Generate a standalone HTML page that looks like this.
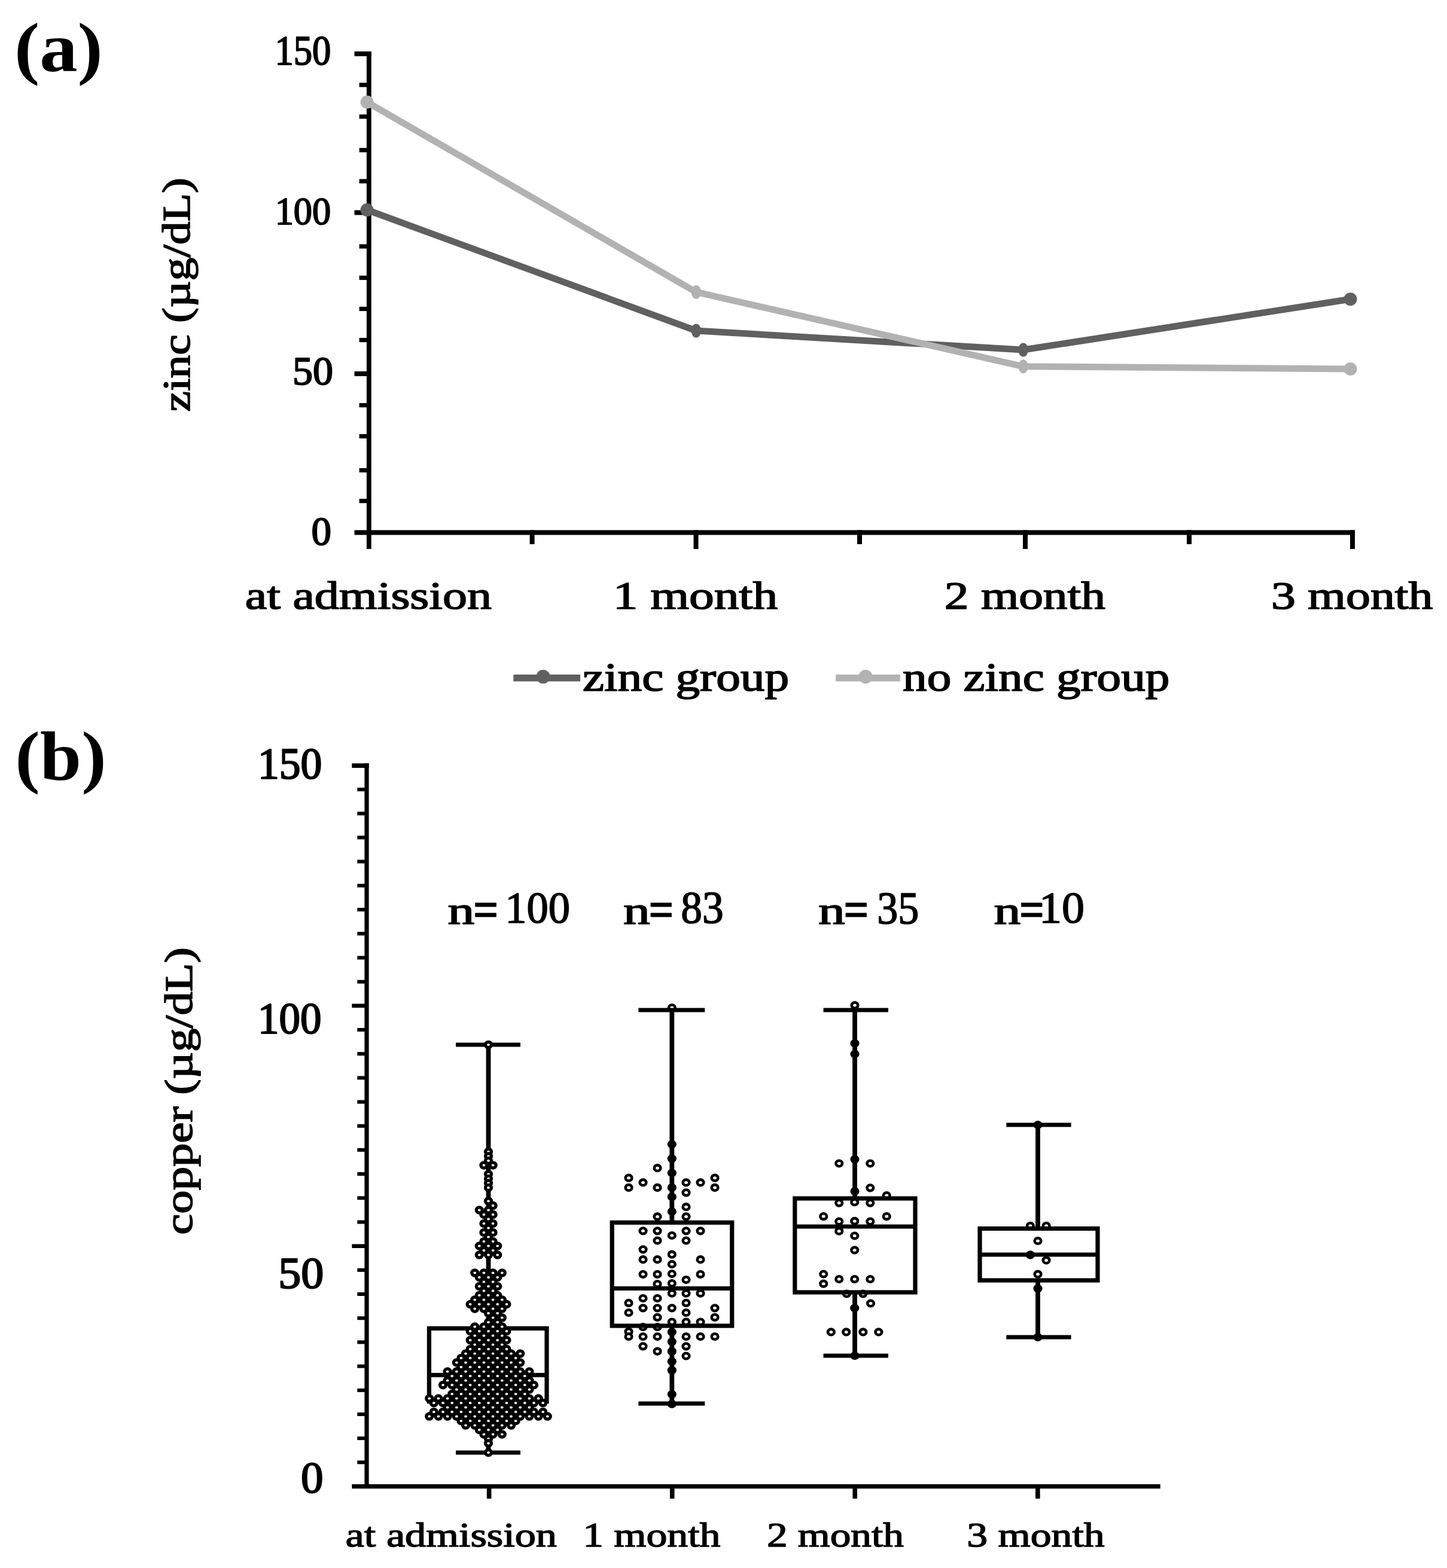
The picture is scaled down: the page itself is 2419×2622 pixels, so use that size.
<!DOCTYPE html>
<html><head><meta charset="utf-8"><title>Zinc and copper levels</title>
<style>html,body{margin:0;padding:0;background:#fff}svg{display:block}</style></head>
<body><svg width="2419" height="2622" viewBox="0 0 2419 2622">
<rect width="2419" height="2622" fill="#fff"/>
<g font-family="Liberation Serif, 'Times New Roman', serif" fill="#000"><text transform="translate(23.93 118.50) scale(1.2685 1.1667)" font-size="100" font-weight="bold">(a)</text><text transform="translate(25.31 1304.23) scale(1.2465 1.1700)" font-size="100" font-weight="bold">(b)</text><text transform="translate(459.42 108.24) scale(0.6255 0.6871)" font-size="100" stroke="#000" stroke-width="3" stroke-linejoin="round">150</text><text transform="translate(459.63 374.75) scale(0.6241 0.6486)" font-size="100" stroke="#000" stroke-width="3" stroke-linejoin="round">100</text><text transform="translate(488.99 643.14) scale(0.6787 0.6857)" font-size="100" stroke="#000" stroke-width="3" stroke-linejoin="round">50</text><text transform="translate(520.46 910.99) scale(0.6696 0.6714)" font-size="100" stroke="#000" stroke-width="3" stroke-linejoin="round">0</text><text transform="translate(409.76 1017.77) scale(0.8202 0.6632)" font-size="100" stroke="#000" stroke-width="2.5" stroke-linejoin="round">at admission</text><text transform="translate(1024.73 1017.77) scale(0.8335 0.6632)" font-size="100" stroke="#000" stroke-width="2.5" stroke-linejoin="round">1 month</text><text transform="translate(1578.86 1017.77) scale(0.8138 0.6632)" font-size="100" stroke="#000" stroke-width="2.5" stroke-linejoin="round">2 month</text><text transform="translate(2125.03 1017.77) scale(0.8181 0.6632)" font-size="100" stroke="#000" stroke-width="2.5" stroke-linejoin="round">3 month</text><text transform="translate(973.89 1155.15) scale(0.8124 0.6818)" font-size="100" stroke="#000" stroke-width="2.5" stroke-linejoin="round">zinc group</text><text transform="translate(1509.09 1155.15) scale(0.8117 0.6818)" font-size="100" stroke="#000" stroke-width="2.5" stroke-linejoin="round">no zinc group</text><text transform="translate(317.29 688.48) rotate(-90) scale(0.7754 0.6488)" font-size="100" stroke="#000" stroke-width="2.5" stroke-linejoin="round">zinc (µg/dL)</text><text transform="translate(430.99 1302.18) scale(0.7163 0.7386)" font-size="100" stroke="#000" stroke-width="3" stroke-linejoin="round">150</text><text transform="translate(431.04 1728.17) scale(0.7092 0.7443)" font-size="100" stroke="#000" stroke-width="3" stroke-linejoin="round">100</text><text transform="translate(465.16 2154.38) scale(0.7596 0.7386)" font-size="100" stroke="#000" stroke-width="3" stroke-linejoin="round">50</text><text transform="translate(503.00 2495.78) scale(0.7500 0.7400)" font-size="100" stroke="#000" stroke-width="3" stroke-linejoin="round">0</text><text transform="translate(577.59 2585.79) scale(0.7030 0.5640)" font-size="100" stroke="#000" stroke-width="2.5" stroke-linejoin="round">at admission</text><text transform="translate(974.13 2585.79) scale(0.6966 0.5640)" font-size="100" stroke="#000" stroke-width="2.5" stroke-linejoin="round">1 month</text><text transform="translate(1281.92 2585.79) scale(0.6927 0.5640)" font-size="100" stroke="#000" stroke-width="2.5" stroke-linejoin="round">2 month</text><text transform="translate(1616.21 2585.79) scale(0.6975 0.5640)" font-size="100" stroke="#000" stroke-width="2.5" stroke-linejoin="round">3 month</text><text transform="translate(321.19 2064.66) rotate(-90) scale(0.7877 0.6508)" font-size="100" stroke="#000" stroke-width="2.5" stroke-linejoin="round">copper (µg/dL)</text><text transform="translate(748.61 1544.69) scale(0.8939 0.6508)" font-size="100" stroke="#000" stroke-width="2.5" stroke-linejoin="round">n</text><text transform="translate(791.02 1550.19) scale(0.7458 0.8593)" font-size="100" font-weight="bold" stroke="#000" stroke-width="1" stroke-linejoin="round">=</text><text transform="translate(844.20 1543.27) scale(0.7252 0.7429)" font-size="100" stroke="#000" stroke-width="2.2" stroke-linejoin="round">100</text><text transform="translate(1042.11 1544.69) scale(0.8939 0.6508)" font-size="100" stroke="#000" stroke-width="2.5" stroke-linejoin="round">n</text><text transform="translate(1084.33 1550.19) scale(0.7438 0.8593)" font-size="100" font-weight="bold" stroke="#000" stroke-width="1" stroke-linejoin="round">=</text><text transform="translate(1138.26 1543.24) scale(0.7138 0.7536)" font-size="100" stroke="#000" stroke-width="2.2" stroke-linejoin="round">83</text><text transform="translate(1368.11 1544.69) scale(0.8939 0.6508)" font-size="100" stroke="#000" stroke-width="2.5" stroke-linejoin="round">n</text><text transform="translate(1410.33 1550.19) scale(0.7438 0.8593)" font-size="100" font-weight="bold" stroke="#000" stroke-width="1" stroke-linejoin="round">=</text><text transform="translate(1466.20 1543.97) scale(0.6989 0.7647)" font-size="100" stroke="#000" stroke-width="2.2" stroke-linejoin="round">35</text><text transform="translate(1661.50 1544.69) scale(0.8959 0.6508)" font-size="100" stroke="#000" stroke-width="2.5" stroke-linejoin="round">n</text><text transform="translate(1703.83 1550.19) scale(0.7438 0.8593)" font-size="100" font-weight="bold" stroke="#000" stroke-width="1" stroke-linejoin="round">=</text><text transform="translate(1736.91 1543.27) scale(0.7607 0.7429)" font-size="100" stroke="#000" stroke-width="2.2" stroke-linejoin="round">10</text></g>
<g><rect x="612.9" y="86.0" width="7.8" height="832.0" fill="#000"/><rect x="592.5" y="86.0" width="28.1" height="8.0" fill="#000"/><rect x="592.5" y="351.5" width="24.2" height="8.0" fill="#000"/><rect x="592.5" y="621.0" width="24.2" height="8.0" fill="#000"/><rect x="600.6" y="138.4" width="16.1" height="7.2" fill="#000"/><rect x="600.6" y="191.4" width="16.1" height="7.2" fill="#000"/><rect x="600.6" y="247.4" width="16.1" height="7.2" fill="#000"/><rect x="600.6" y="299.4" width="16.1" height="7.2" fill="#000"/><rect x="600.6" y="408.4" width="16.1" height="7.2" fill="#000"/><rect x="600.6" y="460.9" width="16.1" height="7.2" fill="#000"/><rect x="600.6" y="512.9" width="16.1" height="7.2" fill="#000"/><rect x="600.6" y="565.0" width="16.1" height="7.2" fill="#000"/><rect x="600.6" y="674.0" width="16.1" height="7.2" fill="#000"/><rect x="600.6" y="725.9" width="16.1" height="7.2" fill="#000"/><rect x="600.6" y="782.8" width="16.1" height="7.2" fill="#000"/><rect x="600.6" y="834.1" width="16.1" height="7.2" fill="#000"/><rect x="592.5" y="886.5" width="1672.5" height="8.0" fill="#000"/><rect x="1159.5" y="886.5" width="8.0" height="31.5" fill="#000"/><rect x="1710.0" y="886.5" width="8.0" height="31.5" fill="#000"/><rect x="2257.0" y="886.5" width="8.0" height="31.5" fill="#000"/><rect x="885.6" y="886.5" width="8.0" height="23.5" fill="#000"/><rect x="1433.0" y="886.5" width="8.0" height="23.5" fill="#000"/><rect x="1984.0" y="886.5" width="8.0" height="23.5" fill="#000"/></g>
<g><polyline points="613.5,351 1163.8,553 1710.6,585 2257.5,500.3" fill="none" stroke="#606060" stroke-width="11" stroke-linejoin="round"/><circle cx="613.5" cy="351" r="11" fill="#606060"/><ellipse cx="1163.8" cy="553" rx="8.3" ry="11.5" fill="#606060"/><ellipse cx="1710.6" cy="585" rx="8.3" ry="11.5" fill="#606060"/><circle cx="2257.5" cy="500.3" r="11" fill="#606060"/><polyline points="613.5,170.8 1163.8,488.4 1710.6,612.8 2257.5,617" fill="none" stroke="#b2b2b2" stroke-width="11" stroke-linejoin="round"/><circle cx="613.5" cy="170.8" r="11" fill="#b2b2b2"/><ellipse cx="1163.8" cy="488.4" rx="8.3" ry="11.5" fill="#b2b2b2"/><ellipse cx="1710.6" cy="612.8" rx="8.3" ry="11.5" fill="#b2b2b2"/><circle cx="2257.5" cy="617" r="11" fill="#b2b2b2"/></g>
<g><rect x="858.3" y="1128.0" width="111.8" height="11.4" fill="#606060"/><circle cx="908" cy="1131.5" r="11.5" fill="#606060"/><rect x="1397.2" y="1128.0" width="107.6" height="11.4" fill="#b2b2b2"/><circle cx="1447" cy="1131.5" r="11.5" fill="#b2b2b2"/></g>
<g><rect x="609.4" y="1276.5" width="7.2" height="1212.5" fill="#000"/><rect x="588.3" y="1276.5" width="28.3" height="7.5" fill="#000"/><rect x="597.3" y="1317.2" width="15.7" height="6.0" fill="#000"/><rect x="597.3" y="1357.4" width="15.7" height="6.0" fill="#000"/><rect x="597.3" y="1397.5" width="15.7" height="6.0" fill="#000"/><rect x="597.3" y="1437.7" width="15.7" height="6.0" fill="#000"/><rect x="597.3" y="1477.9" width="15.7" height="6.0" fill="#000"/><rect x="597.3" y="1518.1" width="15.7" height="6.0" fill="#000"/><rect x="597.3" y="1558.3" width="15.7" height="6.0" fill="#000"/><rect x="597.3" y="1598.5" width="15.7" height="6.0" fill="#000"/><rect x="597.3" y="1638.7" width="15.7" height="6.0" fill="#000"/><rect x="588.3" y="1678.5" width="24.7" height="6.6" fill="#000"/><rect x="597.3" y="1719.0" width="15.7" height="6.0" fill="#000"/><rect x="597.3" y="1759.2" width="15.7" height="6.0" fill="#000"/><rect x="597.3" y="1799.4" width="15.7" height="6.0" fill="#000"/><rect x="597.3" y="1839.6" width="15.7" height="6.0" fill="#000"/><rect x="597.3" y="1879.8" width="15.7" height="6.0" fill="#000"/><rect x="597.3" y="1919.9" width="15.7" height="6.0" fill="#000"/><rect x="597.3" y="1960.1" width="15.7" height="6.0" fill="#000"/><rect x="597.3" y="2000.3" width="15.7" height="6.0" fill="#000"/><rect x="597.3" y="2040.5" width="15.7" height="6.0" fill="#000"/><rect x="588.3" y="2080.4" width="24.7" height="6.6" fill="#000"/><rect x="597.3" y="2120.8" width="15.7" height="6.0" fill="#000"/><rect x="597.3" y="2161.0" width="15.7" height="6.0" fill="#000"/><rect x="597.3" y="2201.2" width="15.7" height="6.0" fill="#000"/><rect x="597.3" y="2241.4" width="15.7" height="6.0" fill="#000"/><rect x="597.3" y="2281.6" width="15.7" height="6.0" fill="#000"/><rect x="597.3" y="2321.8" width="15.7" height="6.0" fill="#000"/><rect x="597.3" y="2361.9" width="15.7" height="6.0" fill="#000"/><rect x="597.3" y="2402.1" width="15.7" height="6.0" fill="#000"/><rect x="597.3" y="2442.3" width="15.7" height="6.0" fill="#000"/><rect x="588.3" y="2481.9" width="1351.4" height="7.3" fill="#000"/><rect x="813.8" y="2485.0" width="7.6" height="21.0" fill="#000"/><rect x="1119.9" y="2485.0" width="7.6" height="21.0" fill="#000"/><rect x="1425.4" y="2485.0" width="7.6" height="21.0" fill="#000"/><rect x="1731.0" y="2485.0" width="7.6" height="21.0" fill="#000"/></g>
<g fill="#fff" stroke="#000" stroke-width="4.6"><ellipse cx="1051.0" cy="1969.7" rx="5.3" ry="4.8"/><ellipse cx="1051.0" cy="1985.9" rx="5.3" ry="4.8"/><ellipse cx="1051.0" cy="2178.8" rx="5.3" ry="4.8"/><ellipse cx="1051.0" cy="2195.0" rx="5.3" ry="4.8"/><ellipse cx="1051.0" cy="2226.7" rx="5.3" ry="4.8"/><ellipse cx="1051.0" cy="2235.0" rx="5.3" ry="4.8"/><ellipse cx="1075.0" cy="1977.4" rx="5.3" ry="4.8"/><ellipse cx="1075.0" cy="2058.3" rx="5.3" ry="4.8"/><ellipse cx="1075.0" cy="2089.3" rx="5.3" ry="4.8"/><ellipse cx="1075.0" cy="2106.2" rx="5.3" ry="4.8"/><ellipse cx="1075.0" cy="2130.8" rx="5.3" ry="4.8"/><ellipse cx="1075.0" cy="2171.0" rx="5.3" ry="4.8"/><ellipse cx="1075.0" cy="2187.3" rx="5.3" ry="4.8"/><ellipse cx="1075.0" cy="2219.0" rx="5.3" ry="4.8"/><ellipse cx="1075.0" cy="2235.0" rx="5.3" ry="4.8"/><ellipse cx="1075.0" cy="2251.3" rx="5.3" ry="4.8"/><ellipse cx="1099.0" cy="1953.2" rx="5.3" ry="4.8"/><ellipse cx="1099.0" cy="1985.9" rx="5.3" ry="4.8"/><ellipse cx="1099.0" cy="2034.4" rx="5.3" ry="4.8"/><ellipse cx="1099.0" cy="2058.3" rx="5.3" ry="4.8"/><ellipse cx="1099.0" cy="2074.5" rx="5.3" ry="4.8"/><ellipse cx="1099.0" cy="2106.2" rx="5.3" ry="4.8"/><ellipse cx="1099.0" cy="2130.8" rx="5.3" ry="4.8"/><ellipse cx="1099.0" cy="2147.0" rx="5.3" ry="4.8"/><ellipse cx="1099.0" cy="2171.0" rx="5.3" ry="4.8"/><ellipse cx="1099.0" cy="2187.3" rx="5.3" ry="4.8"/><ellipse cx="1099.0" cy="2202.8" rx="5.3" ry="4.8"/><ellipse cx="1099.0" cy="2219.0" rx="5.3" ry="4.8"/><ellipse cx="1099.0" cy="2235.0" rx="5.3" ry="4.8"/><ellipse cx="1099.0" cy="2259.7" rx="5.3" ry="4.8"/><ellipse cx="1123.3" cy="1685.0" rx="5.3" ry="4.8"/><ellipse cx="1123.3" cy="1913.5" rx="5.3" ry="4.8"/><ellipse cx="1123.3" cy="1937.4" rx="5.3" ry="4.8"/><ellipse cx="1123.3" cy="1961.4" rx="5.3" ry="4.8"/><ellipse cx="1123.3" cy="1985.9" rx="5.3" ry="4.8"/><ellipse cx="1123.3" cy="2001.4" rx="5.3" ry="4.8"/><ellipse cx="1123.3" cy="2026.0" rx="5.3" ry="4.8"/><ellipse cx="1123.3" cy="2066.0" rx="5.3" ry="4.8"/><ellipse cx="1123.3" cy="2097.7" rx="5.3" ry="4.8"/><ellipse cx="1123.3" cy="2114.0" rx="5.3" ry="4.8"/><ellipse cx="1123.3" cy="2130.0" rx="5.3" ry="4.8"/><ellipse cx="1123.3" cy="2146.0" rx="5.3" ry="4.8"/><ellipse cx="1123.3" cy="2162.7" rx="5.3" ry="4.8"/><ellipse cx="1123.3" cy="2187.3" rx="5.3" ry="4.8"/><ellipse cx="1123.3" cy="2210.5" rx="5.3" ry="4.8"/><ellipse cx="1123.3" cy="2227.4" rx="5.3" ry="4.8"/><ellipse cx="1123.3" cy="2243.6" rx="5.3" ry="4.8"/><ellipse cx="1123.3" cy="2259.7" rx="5.3" ry="4.8"/><ellipse cx="1123.3" cy="2276.6" rx="5.3" ry="4.8"/><ellipse cx="1123.3" cy="2291.4" rx="5.3" ry="4.8"/><ellipse cx="1123.3" cy="2331.5" rx="5.3" ry="4.8"/><ellipse cx="1123.3" cy="2347.7" rx="5.3" ry="4.8"/><ellipse cx="1147.0" cy="1977.4" rx="5.3" ry="4.8"/><ellipse cx="1147.0" cy="1994.3" rx="5.3" ry="4.8"/><ellipse cx="1147.0" cy="2018.2" rx="5.3" ry="4.8"/><ellipse cx="1147.0" cy="2034.4" rx="5.3" ry="4.8"/><ellipse cx="1147.0" cy="2058.3" rx="5.3" ry="4.8"/><ellipse cx="1147.0" cy="2074.5" rx="5.3" ry="4.8"/><ellipse cx="1147.0" cy="2140.0" rx="5.3" ry="4.8"/><ellipse cx="1147.0" cy="2162.7" rx="5.3" ry="4.8"/><ellipse cx="1147.0" cy="2178.8" rx="5.3" ry="4.8"/><ellipse cx="1147.0" cy="2195.0" rx="5.3" ry="4.8"/><ellipse cx="1147.0" cy="2210.5" rx="5.3" ry="4.8"/><ellipse cx="1147.0" cy="2235.0" rx="5.3" ry="4.8"/><ellipse cx="1147.0" cy="2251.3" rx="5.3" ry="4.8"/><ellipse cx="1147.0" cy="2267.5" rx="5.3" ry="4.8"/><ellipse cx="1171.0" cy="1977.4" rx="5.3" ry="4.8"/><ellipse cx="1171.0" cy="2058.3" rx="5.3" ry="4.8"/><ellipse cx="1171.0" cy="2106.2" rx="5.3" ry="4.8"/><ellipse cx="1171.0" cy="2130.8" rx="5.3" ry="4.8"/><ellipse cx="1171.0" cy="2162.7" rx="5.3" ry="4.8"/><ellipse cx="1171.0" cy="2210.5" rx="5.3" ry="4.8"/><ellipse cx="1171.0" cy="2235.0" rx="5.3" ry="4.8"/><ellipse cx="1195.0" cy="1969.7" rx="5.3" ry="4.8"/><ellipse cx="1195.0" cy="1985.9" rx="5.3" ry="4.8"/><ellipse cx="1195.0" cy="2187.3" rx="5.3" ry="4.8"/><ellipse cx="1195.0" cy="2202.8" rx="5.3" ry="4.8"/><ellipse cx="1195.0" cy="2235.0" rx="5.3" ry="4.8"/><ellipse cx="1429.0" cy="1681.0" rx="5.3" ry="4.8"/><ellipse cx="1429.0" cy="1744.6" rx="5.3" ry="4.8"/><ellipse cx="1429.0" cy="1762.6" rx="5.3" ry="4.8"/><ellipse cx="1429.0" cy="1938.6" rx="5.3" ry="4.8"/><ellipse cx="1402.7" cy="1945.5" rx="5.3" ry="4.8"/><ellipse cx="1454.8" cy="1945.5" rx="5.3" ry="4.8"/><ellipse cx="1454.8" cy="1986.3" rx="5.3" ry="4.8"/><ellipse cx="1429.0" cy="1992.0" rx="5.3" ry="4.8"/><ellipse cx="1482.2" cy="1999.0" rx="5.3" ry="4.8"/><ellipse cx="1402.7" cy="2011.6" rx="5.3" ry="4.8"/><ellipse cx="1428.7" cy="2010.2" rx="5.3" ry="4.8"/><ellipse cx="1454.8" cy="2011.6" rx="5.3" ry="4.8"/><ellipse cx="1376.7" cy="2034.1" rx="5.3" ry="4.8"/><ellipse cx="1482.2" cy="2034.1" rx="5.3" ry="4.8"/><ellipse cx="1402.7" cy="2042.6" rx="5.3" ry="4.8"/><ellipse cx="1428.7" cy="2041.9" rx="5.3" ry="4.8"/><ellipse cx="1454.8" cy="2042.6" rx="5.3" ry="4.8"/><ellipse cx="1402.7" cy="2058.7" rx="5.3" ry="4.8"/><ellipse cx="1428.7" cy="2066.5" rx="5.3" ry="4.8"/><ellipse cx="1428.7" cy="2090.4" rx="5.3" ry="4.8"/><ellipse cx="1376.7" cy="2130.5" rx="5.3" ry="4.8"/><ellipse cx="1376.7" cy="2146.7" rx="5.3" ry="4.8"/><ellipse cx="1402.7" cy="2139.0" rx="5.3" ry="4.8"/><ellipse cx="1428.7" cy="2139.0" rx="5.3" ry="4.8"/><ellipse cx="1454.8" cy="2139.0" rx="5.3" ry="4.8"/><ellipse cx="1415.4" cy="2163.5" rx="5.3" ry="4.8"/><ellipse cx="1442.8" cy="2163.5" rx="5.3" ry="4.8"/><ellipse cx="1455.5" cy="2179.5" rx="5.3" ry="4.8"/><ellipse cx="1428.7" cy="2187.3" rx="5.3" ry="4.8"/><ellipse cx="1389.3" cy="2227.4" rx="5.3" ry="4.8"/><ellipse cx="1414.7" cy="2227.4" rx="5.3" ry="4.8"/><ellipse cx="1442.8" cy="2227.4" rx="5.3" ry="4.8"/><ellipse cx="1468.8" cy="2227.4" rx="5.3" ry="4.8"/><ellipse cx="1429.0" cy="2267.0" rx="5.3" ry="4.8"/><ellipse cx="1735.0" cy="1881.0" rx="5.3" ry="4.8"/><ellipse cx="1722.4" cy="2049.8" rx="5.3" ry="4.8"/><ellipse cx="1749.1" cy="2049.8" rx="5.3" ry="4.8"/><ellipse cx="1735.0" cy="2075.0" rx="5.3" ry="4.8"/><ellipse cx="1722.4" cy="2098.3" rx="5.3" ry="4.8"/><ellipse cx="1749.1" cy="2107.4" rx="5.3" ry="4.8"/><ellipse cx="1735.0" cy="2130.7" rx="5.3" ry="4.8"/><ellipse cx="1735.0" cy="2154.6" rx="5.3" ry="4.8"/><ellipse cx="1735.0" cy="2236.0" rx="5.3" ry="4.8"/></g>
<g><rect x="717.4" y="2221.3" width="196.6" height="122.2" fill="none" stroke="#000" stroke-width="7.2"/><line x1="717.4" y1="2299.4" x2="914.0" y2="2299.4" stroke="#000" stroke-width="7.2"/><line x1="816.5" y1="1747" x2="816.5" y2="2221.3" stroke="#000" stroke-width="7.8"/><line x1="816.5" y1="2343.5" x2="816.5" y2="2429" stroke="#000" stroke-width="7.8"/><line x1="762" y1="1747" x2="870" y2="1747" stroke="#000" stroke-width="7.2"/><line x1="762" y1="2429" x2="870" y2="2429" stroke="#000" stroke-width="7.2"/><rect x="1023.2" y="2044.3" width="200.5" height="172.7" fill="none" stroke="#000" stroke-width="7.2"/><line x1="1023.2" y1="2154.5" x2="1223.7" y2="2154.5" stroke="#000" stroke-width="7.2"/><line x1="1123.3" y1="1689" x2="1123.3" y2="2044.3" stroke="#000" stroke-width="7.8"/><line x1="1123.3" y1="2217.0" x2="1123.3" y2="2347" stroke="#000" stroke-width="7.8"/><line x1="1067.4" y1="1689" x2="1178.3" y2="1689" stroke="#000" stroke-width="7.2"/><line x1="1067.4" y1="2347" x2="1178.3" y2="2347" stroke="#000" stroke-width="7.2"/><rect x="1328.8" y="2004.0" width="201.2" height="157.0" fill="none" stroke="#000" stroke-width="7.2"/><line x1="1328.8" y1="2051.0" x2="1530.0" y2="2051.0" stroke="#000" stroke-width="7.2"/><line x1="1429.0" y1="1689" x2="1429.0" y2="2004.0" stroke="#000" stroke-width="7.8"/><line x1="1429.0" y1="2161.0" x2="1429.0" y2="2267" stroke="#000" stroke-width="7.8"/><line x1="1376.5" y1="1689" x2="1485.0" y2="1689" stroke="#000" stroke-width="7.2"/><line x1="1376.5" y1="2267" x2="1485.0" y2="2267" stroke="#000" stroke-width="7.2"/><rect x="1638.0" y="2054.4" width="197.0" height="86.6" fill="none" stroke="#000" stroke-width="7.2"/><line x1="1638.0" y1="2098.0" x2="1835.0" y2="2098.0" stroke="#000" stroke-width="7.2"/><line x1="1735.0" y1="1881" x2="1735.0" y2="2054.4" stroke="#000" stroke-width="7.8"/><line x1="1735.0" y1="2141.0" x2="1735.0" y2="2236" stroke="#000" stroke-width="7.8"/><line x1="1682.3" y1="1881" x2="1790.6" y2="1881" stroke="#000" stroke-width="7.2"/><line x1="1682.3" y1="2236" x2="1790.6" y2="2236" stroke="#000" stroke-width="7.2"/></g>
<g fill="#fff" stroke="#000" stroke-width="5.2"><ellipse cx="816.5" cy="1926.0" rx="5.0" ry="4.6"/><ellipse cx="816.5" cy="1933.5" rx="5.0" ry="4.6"/><ellipse cx="816.5" cy="1941.0" rx="5.0" ry="4.6"/><ellipse cx="808.9" cy="1948.5" rx="5.0" ry="4.6"/><ellipse cx="824.1" cy="1948.5" rx="5.0" ry="4.6"/><ellipse cx="816.5" cy="1963.5" rx="5.0" ry="4.6"/><ellipse cx="816.5" cy="1971.0" rx="5.0" ry="4.6"/><ellipse cx="816.5" cy="1978.5" rx="5.0" ry="4.6"/><ellipse cx="816.5" cy="1986.0" rx="5.0" ry="4.6"/><ellipse cx="816.5" cy="2008.5" rx="5.0" ry="4.6"/><ellipse cx="824.1" cy="2016.0" rx="5.0" ry="4.6"/><ellipse cx="801.3" cy="2023.5" rx="5.0" ry="4.6"/><ellipse cx="816.5" cy="2023.5" rx="5.0" ry="4.6"/><ellipse cx="808.9" cy="2031.0" rx="5.0" ry="4.6"/><ellipse cx="824.1" cy="2031.0" rx="5.0" ry="4.6"/><ellipse cx="816.5" cy="2038.5" rx="5.0" ry="4.6"/><ellipse cx="808.9" cy="2046.0" rx="5.0" ry="4.6"/><ellipse cx="824.1" cy="2046.0" rx="5.0" ry="4.6"/><ellipse cx="816.5" cy="2053.5" rx="5.0" ry="4.6"/><ellipse cx="808.9" cy="2061.0" rx="5.0" ry="4.6"/><ellipse cx="824.1" cy="2061.0" rx="5.0" ry="4.6"/><ellipse cx="816.5" cy="2068.5" rx="5.0" ry="4.6"/><ellipse cx="808.9" cy="2076.0" rx="5.0" ry="4.6"/><ellipse cx="824.1" cy="2076.0" rx="5.0" ry="4.6"/><ellipse cx="801.3" cy="2083.5" rx="5.0" ry="4.6"/><ellipse cx="816.5" cy="2083.5" rx="5.0" ry="4.6"/><ellipse cx="831.7" cy="2083.5" rx="5.0" ry="4.6"/><ellipse cx="808.9" cy="2091.0" rx="5.0" ry="4.6"/><ellipse cx="824.1" cy="2091.0" rx="5.0" ry="4.6"/><ellipse cx="801.3" cy="2098.5" rx="5.0" ry="4.6"/><ellipse cx="816.5" cy="2098.5" rx="5.0" ry="4.6"/><ellipse cx="831.7" cy="2098.5" rx="5.0" ry="4.6"/><ellipse cx="793.7" cy="2128.5" rx="5.0" ry="4.6"/><ellipse cx="808.9" cy="2128.5" rx="5.0" ry="4.6"/><ellipse cx="824.1" cy="2128.5" rx="5.0" ry="4.6"/><ellipse cx="839.3" cy="2128.5" rx="5.0" ry="4.6"/><ellipse cx="801.3" cy="2136.0" rx="5.0" ry="4.6"/><ellipse cx="816.5" cy="2136.0" rx="5.0" ry="4.6"/><ellipse cx="831.7" cy="2136.0" rx="5.0" ry="4.6"/><ellipse cx="808.9" cy="2143.5" rx="5.0" ry="4.6"/><ellipse cx="824.1" cy="2143.5" rx="5.0" ry="4.6"/><ellipse cx="801.3" cy="2151.0" rx="5.0" ry="4.6"/><ellipse cx="816.5" cy="2151.0" rx="5.0" ry="4.6"/><ellipse cx="831.7" cy="2151.0" rx="5.0" ry="4.6"/><ellipse cx="808.9" cy="2158.5" rx="5.0" ry="4.6"/><ellipse cx="824.1" cy="2158.5" rx="5.0" ry="4.6"/><ellipse cx="801.3" cy="2166.0" rx="5.0" ry="4.6"/><ellipse cx="816.5" cy="2166.0" rx="5.0" ry="4.6"/><ellipse cx="831.7" cy="2166.0" rx="5.0" ry="4.6"/><ellipse cx="793.7" cy="2173.5" rx="5.0" ry="4.6"/><ellipse cx="808.9" cy="2173.5" rx="5.0" ry="4.6"/><ellipse cx="824.1" cy="2173.5" rx="5.0" ry="4.6"/><ellipse cx="839.3" cy="2173.5" rx="5.0" ry="4.6"/><ellipse cx="786.1" cy="2181.0" rx="5.0" ry="4.6"/><ellipse cx="801.3" cy="2181.0" rx="5.0" ry="4.6"/><ellipse cx="816.5" cy="2181.0" rx="5.0" ry="4.6"/><ellipse cx="831.7" cy="2181.0" rx="5.0" ry="4.6"/><ellipse cx="846.9" cy="2181.0" rx="5.0" ry="4.6"/><ellipse cx="793.7" cy="2188.5" rx="5.0" ry="4.6"/><ellipse cx="808.9" cy="2188.5" rx="5.0" ry="4.6"/><ellipse cx="824.1" cy="2188.5" rx="5.0" ry="4.6"/><ellipse cx="839.3" cy="2188.5" rx="5.0" ry="4.6"/><ellipse cx="816.5" cy="2196.0" rx="5.0" ry="4.6"/><ellipse cx="831.7" cy="2196.0" rx="5.0" ry="4.6"/><ellipse cx="824.1" cy="2203.5" rx="5.0" ry="4.6"/><ellipse cx="839.3" cy="2203.5" rx="5.0" ry="4.6"/><ellipse cx="816.5" cy="2211.0" rx="5.0" ry="4.6"/><ellipse cx="831.7" cy="2211.0" rx="5.0" ry="4.6"/><ellipse cx="793.7" cy="2218.5" rx="5.0" ry="4.6"/><ellipse cx="808.9" cy="2218.5" rx="5.0" ry="4.6"/><ellipse cx="824.1" cy="2218.5" rx="5.0" ry="4.6"/><ellipse cx="839.3" cy="2218.5" rx="5.0" ry="4.6"/><ellipse cx="786.1" cy="2226.0" rx="5.0" ry="4.6"/><ellipse cx="801.3" cy="2226.0" rx="5.0" ry="4.6"/><ellipse cx="816.5" cy="2226.0" rx="5.0" ry="4.6"/><ellipse cx="831.7" cy="2226.0" rx="5.0" ry="4.6"/><ellipse cx="846.9" cy="2226.0" rx="5.0" ry="4.6"/><ellipse cx="793.7" cy="2233.5" rx="5.0" ry="4.6"/><ellipse cx="808.9" cy="2233.5" rx="5.0" ry="4.6"/><ellipse cx="824.1" cy="2233.5" rx="5.0" ry="4.6"/><ellipse cx="839.3" cy="2233.5" rx="5.0" ry="4.6"/><ellipse cx="786.1" cy="2241.0" rx="5.0" ry="4.6"/><ellipse cx="801.3" cy="2241.0" rx="5.0" ry="4.6"/><ellipse cx="816.5" cy="2241.0" rx="5.0" ry="4.6"/><ellipse cx="831.7" cy="2241.0" rx="5.0" ry="4.6"/><ellipse cx="846.9" cy="2241.0" rx="5.0" ry="4.6"/><ellipse cx="793.7" cy="2248.5" rx="5.0" ry="4.6"/><ellipse cx="808.9" cy="2248.5" rx="5.0" ry="4.6"/><ellipse cx="824.1" cy="2248.5" rx="5.0" ry="4.6"/><ellipse cx="839.3" cy="2248.5" rx="5.0" ry="4.6"/><ellipse cx="786.1" cy="2256.0" rx="5.0" ry="4.6"/><ellipse cx="801.3" cy="2256.0" rx="5.0" ry="4.6"/><ellipse cx="816.5" cy="2256.0" rx="5.0" ry="4.6"/><ellipse cx="831.7" cy="2256.0" rx="5.0" ry="4.6"/><ellipse cx="846.9" cy="2256.0" rx="5.0" ry="4.6"/><ellipse cx="778.5" cy="2263.5" rx="5.0" ry="4.6"/><ellipse cx="793.7" cy="2263.5" rx="5.0" ry="4.6"/><ellipse cx="808.9" cy="2263.5" rx="5.0" ry="4.6"/><ellipse cx="824.1" cy="2263.5" rx="5.0" ry="4.6"/><ellipse cx="839.3" cy="2263.5" rx="5.0" ry="4.6"/><ellipse cx="854.5" cy="2263.5" rx="5.0" ry="4.6"/><ellipse cx="869.7" cy="2263.5" rx="5.0" ry="4.6"/><ellipse cx="770.9" cy="2271.0" rx="5.0" ry="4.6"/><ellipse cx="786.1" cy="2271.0" rx="5.0" ry="4.6"/><ellipse cx="801.3" cy="2271.0" rx="5.0" ry="4.6"/><ellipse cx="816.5" cy="2271.0" rx="5.0" ry="4.6"/><ellipse cx="831.7" cy="2271.0" rx="5.0" ry="4.6"/><ellipse cx="846.9" cy="2271.0" rx="5.0" ry="4.6"/><ellipse cx="862.1" cy="2271.0" rx="5.0" ry="4.6"/><ellipse cx="763.3" cy="2278.5" rx="5.0" ry="4.6"/><ellipse cx="778.5" cy="2278.5" rx="5.0" ry="4.6"/><ellipse cx="793.7" cy="2278.5" rx="5.0" ry="4.6"/><ellipse cx="808.9" cy="2278.5" rx="5.0" ry="4.6"/><ellipse cx="824.1" cy="2278.5" rx="5.0" ry="4.6"/><ellipse cx="839.3" cy="2278.5" rx="5.0" ry="4.6"/><ellipse cx="854.5" cy="2278.5" rx="5.0" ry="4.6"/><ellipse cx="869.7" cy="2278.5" rx="5.0" ry="4.6"/><ellipse cx="770.9" cy="2286.0" rx="5.0" ry="4.6"/><ellipse cx="786.1" cy="2286.0" rx="5.0" ry="4.6"/><ellipse cx="801.3" cy="2286.0" rx="5.0" ry="4.6"/><ellipse cx="816.5" cy="2286.0" rx="5.0" ry="4.6"/><ellipse cx="831.7" cy="2286.0" rx="5.0" ry="4.6"/><ellipse cx="846.9" cy="2286.0" rx="5.0" ry="4.6"/><ellipse cx="862.1" cy="2286.0" rx="5.0" ry="4.6"/><ellipse cx="748.1" cy="2293.5" rx="5.0" ry="4.6"/><ellipse cx="763.3" cy="2293.5" rx="5.0" ry="4.6"/><ellipse cx="778.5" cy="2293.5" rx="5.0" ry="4.6"/><ellipse cx="793.7" cy="2293.5" rx="5.0" ry="4.6"/><ellipse cx="808.9" cy="2293.5" rx="5.0" ry="4.6"/><ellipse cx="824.1" cy="2293.5" rx="5.0" ry="4.6"/><ellipse cx="839.3" cy="2293.5" rx="5.0" ry="4.6"/><ellipse cx="854.5" cy="2293.5" rx="5.0" ry="4.6"/><ellipse cx="869.7" cy="2293.5" rx="5.0" ry="4.6"/><ellipse cx="884.9" cy="2293.5" rx="5.0" ry="4.6"/><ellipse cx="755.7" cy="2301.0" rx="5.0" ry="4.6"/><ellipse cx="770.9" cy="2301.0" rx="5.0" ry="4.6"/><ellipse cx="786.1" cy="2301.0" rx="5.0" ry="4.6"/><ellipse cx="801.3" cy="2301.0" rx="5.0" ry="4.6"/><ellipse cx="816.5" cy="2301.0" rx="5.0" ry="4.6"/><ellipse cx="831.7" cy="2301.0" rx="5.0" ry="4.6"/><ellipse cx="846.9" cy="2301.0" rx="5.0" ry="4.6"/><ellipse cx="862.1" cy="2301.0" rx="5.0" ry="4.6"/><ellipse cx="877.3" cy="2301.0" rx="5.0" ry="4.6"/><ellipse cx="748.1" cy="2308.5" rx="5.0" ry="4.6"/><ellipse cx="763.3" cy="2308.5" rx="5.0" ry="4.6"/><ellipse cx="778.5" cy="2308.5" rx="5.0" ry="4.6"/><ellipse cx="793.7" cy="2308.5" rx="5.0" ry="4.6"/><ellipse cx="808.9" cy="2308.5" rx="5.0" ry="4.6"/><ellipse cx="824.1" cy="2308.5" rx="5.0" ry="4.6"/><ellipse cx="839.3" cy="2308.5" rx="5.0" ry="4.6"/><ellipse cx="854.5" cy="2308.5" rx="5.0" ry="4.6"/><ellipse cx="869.7" cy="2308.5" rx="5.0" ry="4.6"/><ellipse cx="884.9" cy="2308.5" rx="5.0" ry="4.6"/><ellipse cx="740.5" cy="2316.0" rx="5.0" ry="4.6"/><ellipse cx="755.7" cy="2316.0" rx="5.0" ry="4.6"/><ellipse cx="770.9" cy="2316.0" rx="5.0" ry="4.6"/><ellipse cx="786.1" cy="2316.0" rx="5.0" ry="4.6"/><ellipse cx="801.3" cy="2316.0" rx="5.0" ry="4.6"/><ellipse cx="816.5" cy="2316.0" rx="5.0" ry="4.6"/><ellipse cx="831.7" cy="2316.0" rx="5.0" ry="4.6"/><ellipse cx="846.9" cy="2316.0" rx="5.0" ry="4.6"/><ellipse cx="862.1" cy="2316.0" rx="5.0" ry="4.6"/><ellipse cx="877.3" cy="2316.0" rx="5.0" ry="4.6"/><ellipse cx="892.5" cy="2316.0" rx="5.0" ry="4.6"/><ellipse cx="763.3" cy="2323.5" rx="5.0" ry="4.6"/><ellipse cx="778.5" cy="2323.5" rx="5.0" ry="4.6"/><ellipse cx="793.7" cy="2323.5" rx="5.0" ry="4.6"/><ellipse cx="808.9" cy="2323.5" rx="5.0" ry="4.6"/><ellipse cx="824.1" cy="2323.5" rx="5.0" ry="4.6"/><ellipse cx="839.3" cy="2323.5" rx="5.0" ry="4.6"/><ellipse cx="854.5" cy="2323.5" rx="5.0" ry="4.6"/><ellipse cx="869.7" cy="2323.5" rx="5.0" ry="4.6"/><ellipse cx="884.9" cy="2323.5" rx="5.0" ry="4.6"/><ellipse cx="755.7" cy="2331.0" rx="5.0" ry="4.6"/><ellipse cx="770.9" cy="2331.0" rx="5.0" ry="4.6"/><ellipse cx="786.1" cy="2331.0" rx="5.0" ry="4.6"/><ellipse cx="801.3" cy="2331.0" rx="5.0" ry="4.6"/><ellipse cx="816.5" cy="2331.0" rx="5.0" ry="4.6"/><ellipse cx="831.7" cy="2331.0" rx="5.0" ry="4.6"/><ellipse cx="846.9" cy="2331.0" rx="5.0" ry="4.6"/><ellipse cx="862.1" cy="2331.0" rx="5.0" ry="4.6"/><ellipse cx="877.3" cy="2331.0" rx="5.0" ry="4.6"/><ellipse cx="717.7" cy="2338.5" rx="5.0" ry="4.6"/><ellipse cx="732.9" cy="2338.5" rx="5.0" ry="4.6"/><ellipse cx="748.1" cy="2338.5" rx="5.0" ry="4.6"/><ellipse cx="763.3" cy="2338.5" rx="5.0" ry="4.6"/><ellipse cx="778.5" cy="2338.5" rx="5.0" ry="4.6"/><ellipse cx="793.7" cy="2338.5" rx="5.0" ry="4.6"/><ellipse cx="808.9" cy="2338.5" rx="5.0" ry="4.6"/><ellipse cx="824.1" cy="2338.5" rx="5.0" ry="4.6"/><ellipse cx="839.3" cy="2338.5" rx="5.0" ry="4.6"/><ellipse cx="854.5" cy="2338.5" rx="5.0" ry="4.6"/><ellipse cx="869.7" cy="2338.5" rx="5.0" ry="4.6"/><ellipse cx="884.9" cy="2338.5" rx="5.0" ry="4.6"/><ellipse cx="900.1" cy="2338.5" rx="5.0" ry="4.6"/><ellipse cx="725.3" cy="2346.0" rx="5.0" ry="4.6"/><ellipse cx="740.5" cy="2346.0" rx="5.0" ry="4.6"/><ellipse cx="755.7" cy="2346.0" rx="5.0" ry="4.6"/><ellipse cx="770.9" cy="2346.0" rx="5.0" ry="4.6"/><ellipse cx="786.1" cy="2346.0" rx="5.0" ry="4.6"/><ellipse cx="801.3" cy="2346.0" rx="5.0" ry="4.6"/><ellipse cx="816.5" cy="2346.0" rx="5.0" ry="4.6"/><ellipse cx="831.7" cy="2346.0" rx="5.0" ry="4.6"/><ellipse cx="846.9" cy="2346.0" rx="5.0" ry="4.6"/><ellipse cx="862.1" cy="2346.0" rx="5.0" ry="4.6"/><ellipse cx="877.3" cy="2346.0" rx="5.0" ry="4.6"/><ellipse cx="892.5" cy="2346.0" rx="5.0" ry="4.6"/><ellipse cx="907.7" cy="2346.0" rx="5.0" ry="4.6"/><ellipse cx="748.1" cy="2353.5" rx="5.0" ry="4.6"/><ellipse cx="763.3" cy="2353.5" rx="5.0" ry="4.6"/><ellipse cx="778.5" cy="2353.5" rx="5.0" ry="4.6"/><ellipse cx="793.7" cy="2353.5" rx="5.0" ry="4.6"/><ellipse cx="808.9" cy="2353.5" rx="5.0" ry="4.6"/><ellipse cx="824.1" cy="2353.5" rx="5.0" ry="4.6"/><ellipse cx="839.3" cy="2353.5" rx="5.0" ry="4.6"/><ellipse cx="854.5" cy="2353.5" rx="5.0" ry="4.6"/><ellipse cx="869.7" cy="2353.5" rx="5.0" ry="4.6"/><ellipse cx="884.9" cy="2353.5" rx="5.0" ry="4.6"/><ellipse cx="725.3" cy="2361.0" rx="5.0" ry="4.6"/><ellipse cx="740.5" cy="2361.0" rx="5.0" ry="4.6"/><ellipse cx="755.7" cy="2361.0" rx="5.0" ry="4.6"/><ellipse cx="770.9" cy="2361.0" rx="5.0" ry="4.6"/><ellipse cx="786.1" cy="2361.0" rx="5.0" ry="4.6"/><ellipse cx="801.3" cy="2361.0" rx="5.0" ry="4.6"/><ellipse cx="816.5" cy="2361.0" rx="5.0" ry="4.6"/><ellipse cx="831.7" cy="2361.0" rx="5.0" ry="4.6"/><ellipse cx="846.9" cy="2361.0" rx="5.0" ry="4.6"/><ellipse cx="862.1" cy="2361.0" rx="5.0" ry="4.6"/><ellipse cx="877.3" cy="2361.0" rx="5.0" ry="4.6"/><ellipse cx="892.5" cy="2361.0" rx="5.0" ry="4.6"/><ellipse cx="907.7" cy="2361.0" rx="5.0" ry="4.6"/><ellipse cx="717.7" cy="2368.5" rx="5.0" ry="4.6"/><ellipse cx="732.9" cy="2368.5" rx="5.0" ry="4.6"/><ellipse cx="748.1" cy="2368.5" rx="5.0" ry="4.6"/><ellipse cx="763.3" cy="2368.5" rx="5.0" ry="4.6"/><ellipse cx="778.5" cy="2368.5" rx="5.0" ry="4.6"/><ellipse cx="793.7" cy="2368.5" rx="5.0" ry="4.6"/><ellipse cx="808.9" cy="2368.5" rx="5.0" ry="4.6"/><ellipse cx="824.1" cy="2368.5" rx="5.0" ry="4.6"/><ellipse cx="839.3" cy="2368.5" rx="5.0" ry="4.6"/><ellipse cx="854.5" cy="2368.5" rx="5.0" ry="4.6"/><ellipse cx="869.7" cy="2368.5" rx="5.0" ry="4.6"/><ellipse cx="884.9" cy="2368.5" rx="5.0" ry="4.6"/><ellipse cx="900.1" cy="2368.5" rx="5.0" ry="4.6"/><ellipse cx="915.3" cy="2368.5" rx="5.0" ry="4.6"/><ellipse cx="770.9" cy="2376.0" rx="5.0" ry="4.6"/><ellipse cx="786.1" cy="2376.0" rx="5.0" ry="4.6"/><ellipse cx="801.3" cy="2376.0" rx="5.0" ry="4.6"/><ellipse cx="816.5" cy="2376.0" rx="5.0" ry="4.6"/><ellipse cx="831.7" cy="2376.0" rx="5.0" ry="4.6"/><ellipse cx="846.9" cy="2376.0" rx="5.0" ry="4.6"/><ellipse cx="862.1" cy="2376.0" rx="5.0" ry="4.6"/><ellipse cx="778.5" cy="2383.5" rx="5.0" ry="4.6"/><ellipse cx="793.7" cy="2383.5" rx="5.0" ry="4.6"/><ellipse cx="808.9" cy="2383.5" rx="5.0" ry="4.6"/><ellipse cx="824.1" cy="2383.5" rx="5.0" ry="4.6"/><ellipse cx="839.3" cy="2383.5" rx="5.0" ry="4.6"/><ellipse cx="854.5" cy="2383.5" rx="5.0" ry="4.6"/><ellipse cx="801.3" cy="2391.0" rx="5.0" ry="4.6"/><ellipse cx="816.5" cy="2391.0" rx="5.0" ry="4.6"/><ellipse cx="831.7" cy="2391.0" rx="5.0" ry="4.6"/><ellipse cx="808.9" cy="2398.5" rx="5.0" ry="4.6"/><ellipse cx="824.1" cy="2398.5" rx="5.0" ry="4.6"/><ellipse cx="839.3" cy="2398.5" rx="5.0" ry="4.6"/><ellipse cx="816.5" cy="2406.0" rx="5.0" ry="4.6"/><ellipse cx="816.5" cy="2413.5" rx="5.0" ry="4.6"/><ellipse cx="816.5" cy="1747.0" rx="5.0" ry="4.6"/><ellipse cx="816.5" cy="2429.0" rx="5.0" ry="4.6"/></g>
</svg></body></html>
